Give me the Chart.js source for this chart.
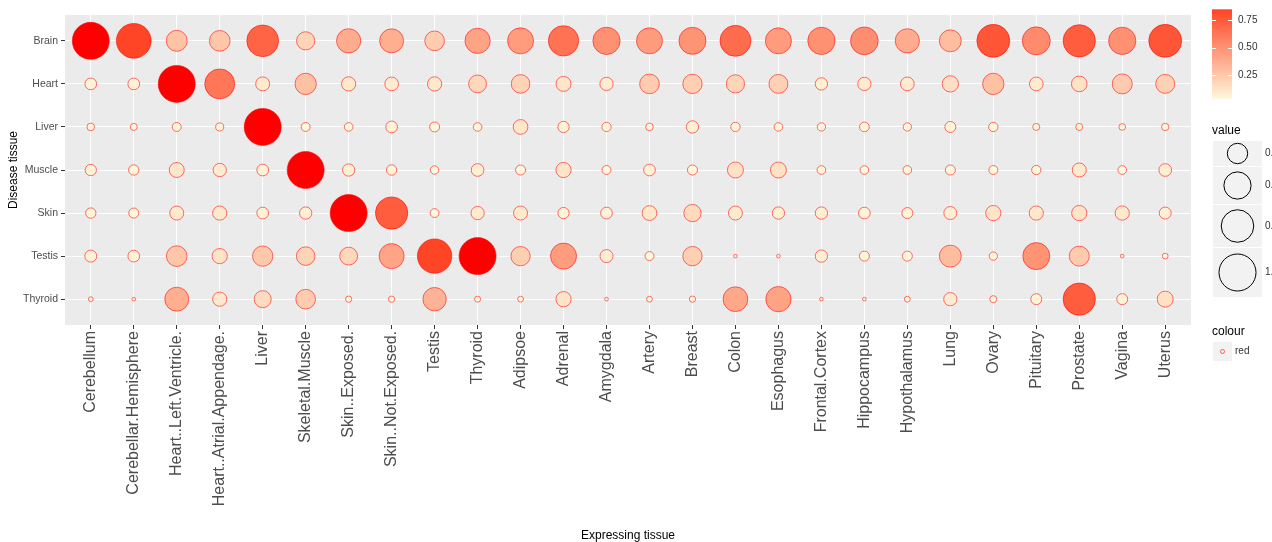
<!DOCTYPE html>
<html lang="en">
<head>
<meta charset="UTF-8">
<title>Disease vs expressing tissue</title>
<script src="https://cdn.jsdelivr.net/npm/chart.js"></script>
<style>
  html, body { margin: 0; padding: 0; background: #fff; }
  #wrap { width: 1272px; height: 542px; position: relative; }
</style>
</head>
<body>
<div id="wrap"><canvas id="bubbleChart"></canvas></div>
<script>
// expressing tissues (x axis) and disease tissues (y axis, top to bottom)
const expressingTissues = ['Cerebellum', 'Cerebellar.Hemisphere', 'Heart..Left.Ventricle.', 'Heart..Atrial.Appendage.',
  'Liver', 'Skeletal.Muscle', 'Skin..Exposed.', 'Skin..Not.Exposed.', 'Testis', 'Thyroid', 'Adipsoe', 'Adrenal',
  'Amygdala', 'Artery', 'Breast', 'Colon', 'Esophagus', 'Frontal.Cortex', 'Hippocampus', 'Hypothalamus', 'Lung',
  'Ovary', 'Pituitary', 'Prostate', 'Vagina', 'Uterus'];
const diseaseTissues = ['Brain', 'Heart', 'Liver', 'Muscle', 'Skin', 'Testis', 'Thyroid'];

// values per disease tissue, one per expressing tissue
const brainVals  = [1.0, 0.87, 0.27, 0.26, 0.71, 0.19, 0.38, 0.37, 0.23, 0.42, 0.45, 0.64, 0.50, 0.45, 0.49, 0.67, 0.45, 0.50, 0.52, 0.38, 0.30, 0.77, 0.53, 0.74, 0.50, 0.77];
const heartVals  = [0.058, 0.058, 1.0, 0.62, 0.096, 0.28, 0.10, 0.09, 0.10, 0.18, 0.20, 0.115, 0.083, 0.23, 0.22, 0.19, 0.21, 0.067, 0.083, 0.09, 0.143, 0.28, 0.09, 0.13, 0.24, 0.21];
const liverVals  = [0.014, 0.01, 0.025, 0.017, 1.0, 0.025, 0.022, 0.058, 0.035, 0.022, 0.11, 0.052, 0.028, 0.014, 0.067, 0.028, 0.022, 0.019, 0.032, 0.019, 0.048, 0.028, 0.01, 0.01, 0.008, 0.012];
const muscleVals = [0.052, 0.04, 0.115, 0.083, 0.058, 1.0, 0.067, 0.04, 0.02, 0.073, 0.036, 0.12, 0.025, 0.058, 0.036, 0.136, 0.136, 0.022, 0.022, 0.022, 0.036, 0.025, 0.028, 0.096, 0.022, 0.073];
const skinVals   = [0.04, 0.036, 0.096, 0.10, 0.058, 0.067, 1.0, 0.74, 0.024, 0.083, 0.096, 0.052, 0.058, 0.11, 0.167, 0.096, 0.067, 0.067, 0.058, 0.048, 0.078, 0.12, 0.10, 0.12, 0.10, 0.062];
const testisVals = [0.062, 0.058, 0.26, 0.12, 0.25, 0.20, 0.18, 0.41, 0.85, 1.0, 0.22, 0.45, 0.078, 0.025, 0.22, 0.0, 0.0, 0.067, 0.036, 0.036, 0.30, 0.019, 0.49, 0.24, 0.0, 0.004];
const thyroidVals = [0.001, 0.0, 0.37, 0.10, 0.16, 0.23, 0.006, 0.006, 0.35, 0.005, 0.004, 0.12, 0.0, 0.004, 0.006, 0.40, 0.42, 0.0, 0.0, 0.004, 0.083, 0.01, 0.048, 0.74, 0.048, 0.136];
const rows = [brainVals, heartVals, liverVals, muscleVals, skinVals, testisVals, thyroidVals];

// legend breaks
const colorBreaks = [0.25, 0.50, 0.75];
const sizeBreaks = [0.25, 0.50, 0.75, 1.00];

const FONT = '"Liberation Sans", Arial, sans-serif';
const fillMin = 0.03, fillMax = 0.85;
const lowCol = [255, 248, 220], highCol = [255, 69, 37];

function colorFor(v) {
  if (v > 0.95) return '#FF0000'; // out of the fill range
  let t = (v - fillMin) / (fillMax - fillMin);
  t = Math.max(0, Math.min(1, t));
  const c = lowCol.map((l, k) => Math.round(l + (highCol[k] - l) * t));
  return `rgb(${c[0]},${c[1]},${c[2]})`;
}
// outer diameter grows with sqrt(value), like an area scale
function diameterFor(v) { return 4.7 + 33.3 * Math.sqrt(Math.max(0, v)); }
function radiusFor(v) { return (diameterFor(v) - 1) / 2; }

const points = [];
rows.forEach((vals, j) => {
  vals.forEach((v, i) => points.push({ x: i, y: j, r: radiusFor(v), v: v }));
});

const panelBg = {
  id: 'panelBg',
  beforeDraw(chart) {
    const { ctx, chartArea: a } = chart;
    ctx.save();
    ctx.fillStyle = '#EBEBEB';
    ctx.fillRect(a.left, a.top, a.right - a.left, a.bottom - a.top);
    ctx.restore();
  }
};

// ggplot-like legends on the right
const sideLegends = {
  id: 'sideLegends',
  afterDraw(chart) {
    const ctx = chart.ctx;
    ctx.save();
    // colour bar
    const bx = 1212, bw = 20, bTop = 9.3, bBot = 99;
    const yOf = v => bTop + (fillMax - v) / (fillMax - fillMin) * (bBot - bTop);
    const grad = ctx.createLinearGradient(0, bBot, 0, bTop);
    for (let k = 0; k <= 20; k++) {
      const v = fillMin + (fillMax - fillMin) * k / 20;
      grad.addColorStop(k / 20, colorFor(v));
    }
    ctx.fillStyle = grad;
    ctx.fillRect(bx, bTop, bw, bBot - bTop);
    ctx.strokeStyle = '#fff';
    ctx.lineWidth = 1;
    ctx.font = '10px ' + FONT;
    ctx.textBaseline = 'middle';
    ctx.textAlign = 'left';
    colorBreaks.forEach(b => {
      const y = Math.round(yOf(b)) + 0.5;
      ctx.beginPath();
      ctx.moveTo(bx, y); ctx.lineTo(bx + 4, y);
      ctx.moveTo(bx + bw - 4, y); ctx.lineTo(bx + bw, y);
      ctx.stroke();
      ctx.fillStyle = '#333';
      ctx.fillText(b.toFixed(2), 1238, yOf(b));
    });

    // size legend
    ctx.fillStyle = '#000';
    ctx.font = '12px ' + FONT;
    ctx.fillText('value', 1212, 131);
    const keys = [[141, 166], [167, 204], [205, 247], [248, 297]];
    keys.forEach((k, n) => {
      ctx.fillStyle = '#F2F2F2';
      ctx.fillRect(1213, k[0], 49, k[1] - k[0]);
      const cy = (k[0] + k[1]) / 2;
      ctx.beginPath();
      ctx.arc(1237.5, cy, radiusFor(sizeBreaks[n]), 0, Math.PI * 2);
      ctx.strokeStyle = '#000';
      ctx.lineWidth = 1;
      ctx.stroke();
      ctx.fillStyle = '#333';
      ctx.font = '10px ' + FONT;
      ctx.fillText(sizeBreaks[n].toFixed(2), 1265, cy);
    });

    // colour legend
    ctx.fillStyle = '#000';
    ctx.font = '12px ' + FONT;
    ctx.fillText('colour', 1212, 332);
    ctx.fillStyle = '#F2F2F2';
    ctx.fillRect(1213, 342, 19, 19);
    ctx.beginPath();
    ctx.arc(1222.5, 351.5, 2, 0, Math.PI * 2);
    ctx.strokeStyle = 'rgba(255,0,0,0.6)';
    ctx.stroke();
    ctx.fillStyle = '#333';
    ctx.font = '10px ' + FONT;
    ctx.fillText('red', 1235, 351.5);
    ctx.restore();
  }
};

new Chart(document.getElementById('bubbleChart'), {
  type: 'bubble',
  data: {
    datasets: [{
      data: points,
      backgroundColor: ctx => colorFor(ctx.raw.v),
      borderColor: 'rgba(255,0,0,0.55)',
      borderWidth: 1
    }]
  },
  options: {
    responsive: true,
    maintainAspectRatio: false,
    animation: false,
    events: [],
    layout: { autoPadding: false, padding: { top: 15, right: 81, left: 0, bottom: 0 } },
    plugins: { legend: { display: false }, tooltip: { enabled: false } },
    scales: {
      x: {
        type: 'linear',
        min: -0.6,
        max: expressingTissues.length - 1 + 0.6,
        afterBuildTicks: s => { s.ticks = expressingTissues.map((_, i) => ({ value: i })); },
        afterFit: s => { s.height = 217; s.paddingLeft = 0; s.paddingRight = 0; },
        ticks: {
          autoSkip: false, minRotation: 90, maxRotation: 90, padding: 2,
          color: '#4D4D4D', font: { family: FONT, size: 16 },
          callback: v => expressingTissues[v]
        },
        grid: { color: '#FFFFFF', lineWidth: 1, tickColor: '#333333', tickLength: 4 },
        border: { display: false },
        title: {
          display: true, text: 'Expressing tissue', color: '#000',
          font: { family: FONT, size: 12, lineHeight: 1 }, padding: { top: 0, bottom: 0 }
        }
      },
      y: {
        type: 'linear',
        reverse: true,
        min: -0.6,
        max: diseaseTissues.length - 1 + 0.6,
        afterBuildTicks: s => { s.ticks = diseaseTissues.map((_, i) => ({ value: i })); },
        afterFit: s => { s.width = 65; s.paddingTop = 0; s.paddingBottom = 0; },
        ticks: {
          padding: 3, color: '#4D4D4D', font: { family: FONT, size: 10.5 },
          callback: v => diseaseTissues[v]
        },
        grid: { color: '#FFFFFF', lineWidth: 1, tickColor: '#333333', tickLength: 4 },
        border: { display: false },
        title: {
          display: true, text: 'Disease tissue', color: '#000',
          font: { family: FONT, size: 12, lineHeight: 1 }, padding: { top: 8, bottom: 0 }
        }
      }
    }
  },
  plugins: [panelBg, sideLegends]
});
</script>
</body>
</html>
